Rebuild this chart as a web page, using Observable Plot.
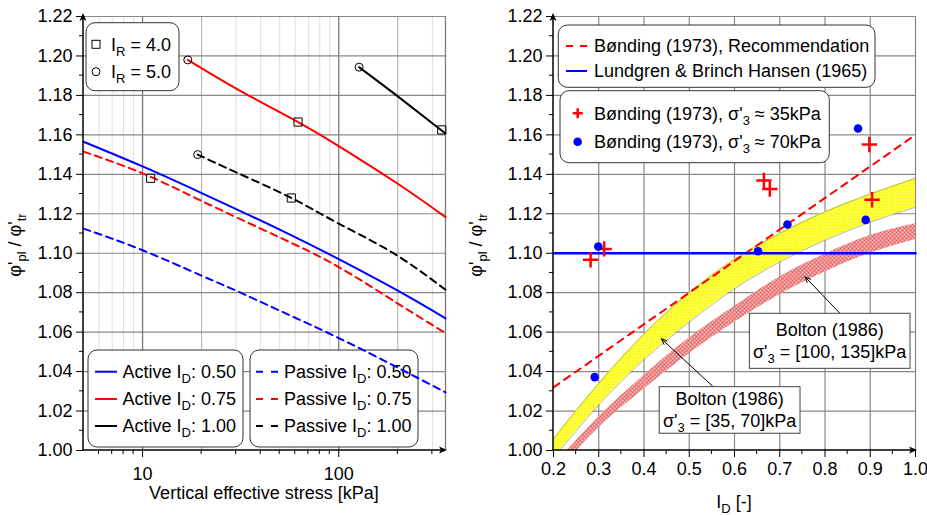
<!DOCTYPE html>
<html><head><meta charset="utf-8">
<script src="https://cdn.jsdelivr.net/npm/d3@7"></script>
<script src="https://cdn.jsdelivr.net/npm/@observablehq/plot@0.6"></script>
<style>
html,body{margin:0;padding:0;background:#fff;}
#wrap{display:flex;width:927px;height:515px;overflow:hidden;}
svg{display:block;}
text{white-space:pre;}
</style></head><body><div id="wrap"></div>
<script>
// ---------------- LEFT PANEL DATA ----------------
const yTicks = [1.00,1.02,1.04,1.06,1.08,1.10,1.12,1.14,1.16,1.18,1.20,1.22];
const yMinorTicks = [1.01,1.03,1.05,1.07,1.09,1.11,1.13,1.15,1.17,1.19,1.21];
const stressTicks = [10, 100];
const stressMinorTicks = [6,7,8,9,20,30,40,50,60,70,80,90,200,300];
const stressMidGrid = [20, 200];
const stressLightGrid = [6,7,8,9,30,40,50,60,70,80,90,300];

const active050Stress = [5,10,20,50,100,200,350];
const active050Ratio  = [1.1565,1.144,1.1305,1.112,1.097,1.081,1.067];
const active075Stress = [17,30,62,100,200,350];
const active075Ratio  = [1.198,1.1835,1.1665,1.1543,1.1352,1.1183];
const active100Stress = [127,200,350];
const active100Ratio  = [1.1943,1.1795,1.1607];
const passive050Stress = [5,10,20,30,50,100,200,350];
const passive050Ratio  = [1.1125,1.1015,1.0886,1.081,1.0709,1.057,1.042,1.0295];
const passive075Stress = [5,10,20,50,100,200,350];
const passive075Ratio  = [1.1515,1.1405,1.1265,1.108,1.093,1.0745,1.0595];
const passive100Stress = [19.1,30,57.3,100,190,350];
const passive100Ratio  = [1.150,1.141,1.128,1.115,1.10,1.0815];
const ir4Stress = [11,62,57.3,335];
const ir4Ratio  = [1.138,1.1665,1.128,1.1625];
const ir5Stress = [17,127,19.1];
const ir5Ratio  = [1.198,1.1943,1.150];

// ---------------- RIGHT PANEL DATA ----------------
const idTicks = [0.2,0.3,0.4,0.5,0.6,0.7,0.8,0.9,1.0];
const idMinorTicks = [0.25,0.35,0.45,0.55,0.65,0.75,0.85,0.95];
const recommendationID = [0.2, 1.0];
const recommendationRatio = [1.032, 1.16];
const lundgrenID = [0.2, 1.0];
const lundgrenRatio = [1.10, 1.10];
const bonding35ID = [0.282,0.312,0.665,0.678,0.898,0.904];
const bonding35Ratio = [1.0967,1.1022,1.1369,1.1325,1.1551,1.1271];
const bonding70ID = [0.291,0.299,0.652,0.717,0.873,0.890];
const bonding70Ratio = [1.0372,1.1034,1.101,1.1146,1.1632,1.1169];
const boltonID = [0.2,0.3,0.4,0.5,0.6,0.7,0.8,0.9,1.0];
const bolton35Lo  = [0.996,1.023,1.046,1.065,1.082,1.0955,1.1065,1.1157,1.1233];
const bolton35Hi  = [1.006,1.034,1.059,1.080,1.097,1.110,1.121,1.130,1.138];
const bolton100Lo = [0.9865,1.0115,1.031,1.049,1.065,1.079,1.0905,1.100,1.107];
const bolton100Hi = [0.992,1.017,1.038,1.057,1.073,1.088,1.0995,1.109,1.115];

// annotations (data coordinates)
const boltonNotes = [
  {line1:"Bolton (1986)", sub:"= [100, 135]kPa", box:[0.634,0.989,1.0414,1.0693], from:[0.834,1.0693], to:[0.756,1.088]},
  {line1:"Bolton (1986)", sub:"= [35, 70]kPa",   box:[0.4347,0.7459,1.0085,1.0321], from:[0.554,1.0321], to:[0.4385,1.0566]}
];

// ---------------- helpers ----------------
const FONT = "'Liberation Sans', Arial, Helvetica, sans-serif";
const rows = (xs, ys) => xs.map((x, i) => ({x, y: ys[i]}));

function richText(parent, x, y, parts, {anchor = "start", size = 18, subSize = 13, shift = 5, rotate = null} = {}) {
  const t = parent.append("text").attr("x", x).attr("y", y).attr("font-size", size)
    .attr("text-anchor", anchor).attr("fill", "black").attr("stroke", "none").attr("font-family", FONT);
  if (rotate != null) t.attr("transform", `rotate(${rotate},${x},${y})`);
  let cur = 0;
  for (const p of parts) {
    const target = p.sub ? shift : 0;
    const ts = t.append("tspan").text(p.t).attr("font-size", p.sub ? subSize : size);
    if (target !== cur) ts.attr("dy", target - cur);
    cur = target;
  }
  return t;
}

function decor(minorX, minorY) {
  return (index, scales, values, dims) => {
    const {width, height, marginLeft, marginRight, marginTop, marginBottom} = dims;
    const L = marginLeft, R = width - marginRight, B = height - marginBottom, T = marginTop;
    const g = d3.create("svg:g").attr("stroke", "black").attr("fill", "none");
    for (const v of minorY) { const y = scales.y(v); g.append("line").attr("x1", L - 4).attr("x2", L).attr("y1", y).attr("y2", y); }
    for (const v of minorX) { const x = scales.x(v); g.append("line").attr("x1", x).attr("x2", x).attr("y1", B).attr("y2", B + 4); }
    g.append("line").attr("x1", L).attr("x2", L).attr("y1", B).attr("y2", T).attr("stroke-width", 1.5);
    g.append("line").attr("x1", L).attr("x2", R).attr("y1", B).attr("y2", B).attr("stroke-width", 1.5);
    g.append("path").attr("d", `M${L},${T - 3} l-3.5,8 l3.5,-2 l3.5,2 z`).attr("fill", "black").attr("stroke", "none");
    g.append("path").attr("d", `M${R + 2},${B} l-8,-3.5 l2,3.5 l-2,3.5 z`).attr("fill", "black").attr("stroke", "none");
    return g.node();
  };
}

function yTitle(x) {
  return (index, scales, values, dims) => {
    const g = d3.create("svg:g");
    richText(g, x, 245, [{t:"φ'"},{t:"pl",sub:1},{t:" / φ'"},{t:"tr",sub:1}], {anchor:"middle", rotate:-90});
    return g.node();
  };
}

function legendBox(g, x, y, w, h, rx = 9) {
  g.append("rect").attr("x", x).attr("y", y).attr("width", w).attr("height", h).attr("rx", rx)
    .attr("fill", "white").attr("stroke", "#333").attr("stroke-width", 1);
}

// ---------------- LEFT PLOT ----------------
const leftLegendBottom = () => {
  const g = d3.create("svg:g");
  legendBox(g, 88, 350, 155, 97);
  legendBox(g, 250, 350, 168, 97);
  const entries = [
    ["#0000ff", "0.50", 371.7], ["#ff0000", "0.75", 399], ["#000000", "1.00", 426]
  ];
  for (const [c, v, cy] of entries) {
    g.append("line").attr("x1", 95).attr("x2", 117).attr("y1", cy).attr("y2", cy).attr("stroke", c).attr("stroke-width", 2);
    richText(g, 122.5, cy + 6.4, [{t:"Active I"},{t:"D",sub:1},{t:": " + v}]);
    g.append("line").attr("x1", 256).attr("x2", 278).attr("y1", cy).attr("y2", cy).attr("stroke", c).attr("stroke-width", 2).attr("stroke-dasharray", "7,8");
    richText(g, 284, cy + 6.4, [{t:"Passive I"},{t:"D",sub:1},{t:": " + v}]);
  }
  return g.node();
};
const leftLegendTop = () => {
  const g = d3.create("svg:g");
  legendBox(g, 86, 22.7, 93, 68);
  g.append("rect").attr("x", 92).attr("y", 40.3).attr("width", 8).attr("height", 8).attr("fill", "none").attr("stroke", "black");
  g.append("circle").attr("cx", 96).attr("cy", 71.7).attr("r", 4).attr("fill", "none").attr("stroke", "black");
  richText(g, 111, 50.7, [{t:"I"},{t:"R",sub:1},{t:" = 4.0"}]);
  richText(g, 111, 78.1, [{t:"I"},{t:"R",sub:1},{t:" = 5.0"}]);
  return g.node();
};
const leftXTitle = () => {
  const g = d3.create("svg:g");
  richText(g, 264, 499, [{t:"Vertical effective stress [kPa]"}], {anchor:"middle"});
  return g.node();
};

const lineStyle = (stroke, dashed) => ({x: "x", y: "y", stroke, strokeWidth: 2, curve: "natural", strokeDasharray: dashed ? "7,5" : null});

const left = Plot.plot({
  width: 470, height: 515,
  marginLeft: 83, marginRight: 25, marginTop: 16, marginBottom: 65,
  style: {fontFamily: FONT, fontSize: "18px", background: "white", color: "black", overflow: "visible"},
  x: {type: "log", domain: [5, 350], ticks: stressTicks, tickFormat: d => String(d), tickSize: 7, tickPadding: 10, label: null},
  y: {domain: [1.0, 1.22], ticks: yTicks, tickFormat: d3.format(".2f"), tickSize: 7, tickPadding: 4, label: null},
  marks: [
    Plot.ruleX(stressLightGrid, {x: d => d, stroke: "#dedede", strokeWidth: 1}),
    Plot.ruleX(stressMidGrid, {x: d => d, stroke: "#aaaaaa", strokeWidth: 1}),
    Plot.ruleY(yTicks.slice(1), {y: d => d, stroke: "#888888", strokeWidth: 1.2}),
    Plot.ruleX(stressTicks.concat([350]), {x: d => d, stroke: "#7a7a7a", strokeWidth: 1.3}),
    leftLegendBottom,
    Plot.line(rows(active050Stress, active050Ratio), lineStyle("#0000ff", false)),
    Plot.line(rows(active075Stress, active075Ratio), lineStyle("#ff0000", false)),
    Plot.line(rows(active100Stress, active100Ratio), lineStyle("#000000", false)),
    Plot.line(rows(passive050Stress, passive050Ratio), lineStyle("#0000ff", true)),
    Plot.line(rows(passive075Stress, passive075Ratio), lineStyle("#ff0000", true)),
    Plot.line(rows(passive100Stress, passive100Ratio), lineStyle("#000000", true)),
    Plot.dot(rows(ir4Stress, ir4Ratio), {x: "x", y: "y", symbol: "square", r: 4.6, stroke: "black", strokeWidth: 1, fill: "none"}),
    Plot.dot(rows(ir5Stress, ir5Ratio), {x: "x", y: "y", symbol: "circle", r: 4, stroke: "black", strokeWidth: 1, fill: "none"}),
    leftLegendTop,
    decor(stressMinorTicks, yMinorTicks),
    yTitle(21),
    leftXTitle
  ]
});

// ---------------- RIGHT PLOT ----------------
const patterns = () => {
  const g = d3.create("svg:g");
  const defs = g.append("defs");
  const py = defs.append("pattern").attr("id", "boltonYellow").attr("patternUnits", "userSpaceOnUse").attr("width", 3).attr("height", 3);
  py.append("rect").attr("width", 3).attr("height", 3).attr("fill", "#ffff2e");
  py.append("rect").attr("width", 1).attr("height", 1).attr("fill", "#e4e47c");
  const pp = defs.append("pattern").attr("id", "boltonPink").attr("patternUnits", "userSpaceOnUse").attr("width", 4).attr("height", 4);
  pp.append("rect").attr("width", 4).attr("height", 4).attr("fill", "#f58484");
  pp.append("rect").attr("x", 0).attr("y", 0).attr("width", 1).attr("height", 1).attr("fill", "#ffdcdc");
  pp.append("rect").attr("x", 2).attr("y", 2).attr("width", 1).attr("height", 1).attr("fill", "#ffdcdc");
  pp.append("rect").attr("x", 2).attr("y", 0).attr("width", 1).attr("height", 1).attr("fill", "#ee6464");
  pp.append("rect").attr("x", 0).attr("y", 2).attr("width", 1).attr("height", 1).attr("fill", "#ee6464");
  return g.node();
};

const rightLegends = () => {
  const g = d3.create("svg:g");
  legendBox(g, 88.3, 25, 316.7, 62.3);
  g.append("line").attr("x1", 96).attr("x2", 117).attr("y1", 46).attr("y2", 46).attr("stroke", "#ff0000").attr("stroke-width", 2).attr("stroke-dasharray", "7,7");
  richText(g, 124, 52.4, [{t:"Bønding (1973), Recommendation"}]);
  g.append("line").attr("x1", 96).attr("x2", 117).attr("y1", 71).attr("y2", 71).attr("stroke", "#0000ff").attr("stroke-width", 2);
  richText(g, 124, 77.4, [{t:"Lundgren & Brinch Hansen (1965)"}]);
  legendBox(g, 90, 90.7, 269.3, 72);
  g.append("path").attr("d", "M102.7,113.3h10M107.7,108.3v10").attr("stroke", "#ff0000").attr("stroke-width", 2.5);
  richText(g, 124, 119.7, [{t:"Bønding (1973), σ'"},{t:"3",sub:1},{t:" ≈ 35kPa"}]);
  g.append("circle").attr("cx", 107.7).attr("cy", 141.7).attr("r", 4.3).attr("fill", "#0000ff");
  richText(g, 124, 148.1, [{t:"Bønding (1973), σ'"},{t:"3",sub:1},{t:" ≈ 70kPa"}]);
  return g.node();
};

const noteBoxes = (index, scales) => {
  const g = d3.create("svg:g");
  for (const n of boltonNotes) {
    const x0 = scales.x(n.box[0]), x1 = scales.x(n.box[1]);
    const y0 = scales.y(n.box[3]), y1 = scales.y(n.box[2]);
    g.append("rect").attr("x", x0).attr("y", y0).attr("width", x1 - x0).attr("height", y1 - y0)
      .attr("fill", "white").attr("stroke", "#444").attr("stroke-width", 1);
    const cx = (x0 + x1) / 2, h = y1 - y0;
    const top = y0 + (h - 21.6) / 2 - 0.5;
    richText(g, cx, top + 6.4, [{t:n.line1}], {anchor:"middle"});
    richText(g, cx, top + 21.6 + 6.4, [{t:"σ'"},{t:"3",sub:1},{t:" " + n.sub}], {anchor:"middle"});
  }
  return g.node();
};

const rightXTitle = () => {
  const g = d3.create("svg:g");
  richText(g, 264, 508, [{t:"I"},{t:"D",sub:1},{t:" [-]"}], {anchor:"middle"});
  return g.node();
};

const bandRows = (lo, hi) => boltonID.map((x, i) => ({x, lo: lo[i], hi: hi[i]}));

const right = Plot.plot({
  width: 457, height: 515,
  marginLeft: 83, marginRight: 12, marginTop: 16, marginBottom: 65,
  style: {fontFamily: FONT, fontSize: "18px", background: "white", color: "black", overflow: "visible"},
  x: {domain: [0.2, 1.0], ticks: idTicks, tickFormat: d3.format(".1f"), tickSize: 7, tickPadding: 5, label: null},
  y: {domain: [1.0, 1.22], ticks: yTicks, tickFormat: d3.format(".2f"), tickSize: 7, tickPadding: 4, label: null},
  marks: [
    patterns,
    Plot.ruleY(yTicks.slice(1), {y: d => d, stroke: "#888888", strokeWidth: 1.2}),
    Plot.ruleX(idTicks.slice(1), {x: d => d, stroke: "#888888", strokeWidth: 1.2}),
    Plot.areaY(bandRows(bolton100Lo, bolton100Hi), {x: "x", y1: "lo", y2: "hi", fill: "url(#boltonPink)", curve: "monotone-x", clip: true}),
    Plot.areaY(bandRows(bolton35Lo, bolton35Hi), {x: "x", y1: "lo", y2: "hi", fill: "url(#boltonYellow)", curve: "monotone-x", clip: true}),
    Plot.line(rows(boltonID, bolton35Lo), {x: "x", y: "y", stroke: "#8a8a6a", strokeWidth: 0.6, curve: "monotone-x", clip: true}),
    Plot.line(rows(boltonID, bolton35Hi), {x: "x", y: "y", stroke: "#8a8a6a", strokeWidth: 0.6, curve: "monotone-x", clip: true}),
    Plot.line(rows(recommendationID, recommendationRatio), {x: "x", y: "y", stroke: "#ff0000", strokeWidth: 2, strokeDasharray: "7,6"}),
    Plot.line(rows(lundgrenID, lundgrenRatio), {x: "x", y: "y", stroke: "#0000ff", strokeWidth: 2.5}),
    Plot.dot(rows(bonding35ID, bonding35Ratio), {x: "x", y: "y", symbol: "plus", r: 5, stroke: "#ff0000", strokeWidth: 2.5}),
    Plot.dot(rows(bonding70ID, bonding70Ratio), {x: "x", y: "y", symbol: "circle", r: 4.3, fill: "#0000ff", stroke: "none"}),
    rightLegends,
    Plot.arrow(boltonNotes, {x1: d => d.from[0], y1: d => d.from[1], x2: d => d.to[0], y2: d => d.to[1], stroke: "black", strokeWidth: 1, headLength: 9, headAngle: 45, bend: 0}),
    noteBoxes,
    decor(idMinorTicks, yMinorTicks),
    yTitle(12),
    rightXTitle
  ]
});

document.getElementById("wrap").append(left, right);
</script></body></html>
